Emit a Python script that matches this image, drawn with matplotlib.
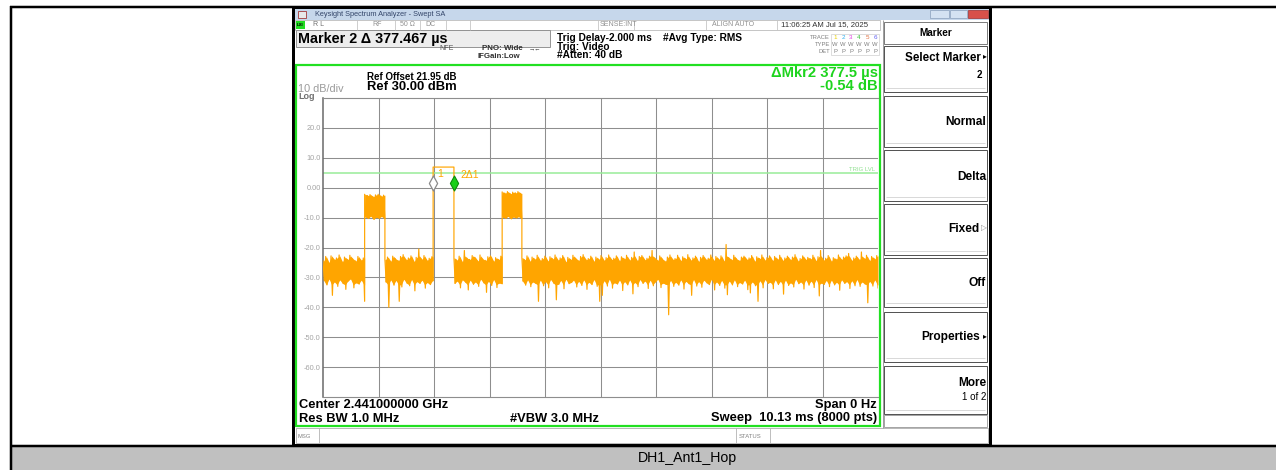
import numpy as np
import matplotlib
matplotlib.use('Agg')
import matplotlib.pyplot as plt
from matplotlib.patches import Rectangle
from matplotlib.path import Path

plt.rcParams['font.family'] = ['Liberation Sans', 'DejaVu Sans']

# ---------------- data ----------------
sweep_ms = 10.13
y_top, y_bottom = 30.0, -70.0
y_ticks = [20, 10, 0, -10, -20, -30, -40, -50, -60]
y_tick_labels = ["20.0", "10.0", "0.00", "-10.0", "-20.0", "-30.0", "-40.0", "-50.0", "-60.0"]

# segment boundaries (ms)
seg_bounds = [0.0, 0.76, 1.13, 2.01, 2.39, 3.27, 3.63, 10.13]

noise_A_hi = [-24.5, -23.0, -25.0, -22.8, -24.0, -23.5, -22.5, -24.8, -23.2, -24.0, -22.6, -23.8, -24.5, -23.0, -24.2, -23.5]
noise_A_lo = [-31.0, -32.5, -30.5, -36.0, -31.5, -33.0, -30.8, -32.0, -34.0, -31.2, -30.5, -33.5, -31.8, -32.2, -30.9, -38.0]

pulse1_hi = [-2.2, -2.6, -2.3, -3.0, -2.4, -2.2, -2.8, -2.5]
pulse1_lo = [-9.8, -10.3, -9.5, -10.6, -9.9, -10.2, -9.6, -10.4]

noise_B_hi = [-24.0, -23.2, -24.6, -22.9, -23.8, -24.4, -23.0, -22.4, -24.1, -23.5, -22.8, -24.7, -23.3, -20.5, -23.9, -22.7, -24.3, -23.6, -23.1]
noise_B_lo = [-31.5, -40.0, -30.8, -32.6, -31.0, -38.0, -33.2, -30.6, -31.9, -32.8, -30.7, -34.5, -31.4, -32.0, -30.9, -33.6, -31.7, -32.4, -31.1]

pulse2_level = 6.9

noise_C_hi = [-23.5, -24.2, -22.9, -24.8, -21.0, -23.6, -24.0, -22.7, -23.3, -24.5, -22.5, -23.9, -24.3, -23.1, -22.8, -24.6, -23.4, -24.0, -22.9]
noise_C_lo = [-32.0, -31.2, -33.5, -30.8, -31.6, -34.2, -30.9, -32.3, -31.5, -33.0, -30.6, -31.8, -35.0, -31.3, -32.7, -30.7, -33.4, -31.9, -32.1]

pulse3_hi = [-1.4, -1.8, -1.3, -2.0, -1.5, -1.7, -1.3, -1.9]
pulse3_lo = [-9.9, -10.2, -9.6, -10.4, -9.8, -10.1, -9.7, -10.3]

noise_D_hi = [
    -23.4, -24.1, -22.8, -24.6, -23.2, -23.9, -22.6, -24.3, -23.7, -22.9,
    -24.5, -23.1, -23.8, -22.5, -24.2, -23.5, -22.7, -24.8, -23.3, -24.0,
    -22.6, -23.6, -24.4, -23.0, -22.4, -24.1, -23.7, -22.9, -24.6, -23.2,
    -23.9, -22.7, -24.3, -23.4, -22.5, -24.0, -23.6, -22.8, -24.5, -23.1,
    -23.8, -22.6, -24.2, -23.3, -21.5, -24.4, -23.0, -22.7, -24.1, -23.6,
    -22.9, -21.0, -23.5, -24.3, -22.8, -23.9, -24.6, -23.2, -22.5, -24.0,
    -23.7, -22.6, -24.4, -23.1, -23.8, -22.4, -24.2, -23.5, -22.9, -24.7,
    -23.3, -22.7, -24.0, -23.6, -22.5, -24.3, -23.0, -23.9, -22.8, -24.5,
    -19.0, -23.4, -24.1, -22.6, -23.8, -24.4, -23.2, -22.9, -24.0, -23.5,
    -22.7, -24.6, -23.1, -23.7, -22.5, -24.2, -23.4, -22.8, -24.4, -23.0,
    -23.9, -22.6, -24.3, -23.5, -22.9, -24.1, -23.2, -22.4, -24.5, -23.7,
    -22.8, -24.0, -23.3, -23.8, -22.6, -24.4, -23.1, -21.0, -24.2, -23.6,
    -22.7, -24.6, -23.4, -23.9, -22.5, -24.0, -23.2, -22.8, -22.0, -24.3,
    -23.5, -22.9, -24.1, -21.5, -23.7, -22.6, -24.4, -23.0, -23.8, -22.7]
noise_D_lo = [
    -31.2, -32.6, -30.8, -33.1, -31.5, -32.0, -38.0, -30.9, -32.8, -31.4,
    -33.5, -30.7, -31.9, -37.5, -32.3, -31.0, -33.8, -30.6, -32.1, -31.7,
    -30.9, -33.2, -31.3, -32.7, -30.8, -34.0, -31.6, -32.4, -30.7, -33.0,
    -38.0, -36.0, -31.1, -32.9, -30.6, -33.6, -31.8, -32.2, -30.9, -34.4,
    -31.4, -32.5, -30.8, -35.5, -31.7, -33.1, -30.7, -32.0, -31.2, -33.7,
    -30.9, -32.8, -31.5, -30.6, -33.4, -31.9, -32.3, -42.5, -31.0, -33.0,
    -31.6, -32.6, -30.8, -33.9, -31.3, -32.1, -36.0, -30.7, -32.9, -31.4,
    -33.3, -30.9, -31.8, -32.4, -30.6, -34.2, -31.5, -32.7, -31.0, -33.6,
    -35.8, -31.2, -32.5, -30.8, -33.1, -31.7, -32.2, -30.9, -34.1, -35.2,
    -31.5, -32.8, -38.0, -31.1, -33.5, -30.7, -32.0, -31.6, -33.8, -30.8,
    -32.4, -31.3, -35.6, -30.9, -32.7, -31.8, -33.2, -30.6, -32.1, -31.5,
    -33.9, -30.8, -32.6, -31.2, -33.4, -30.7, -36.2, -31.9, -32.3, -31.0,
    -33.1, -30.9, -32.5, -31.6, -34.3, -30.8, -32.0, -31.4, -33.7, -31.1,
    -32.8, -30.7, -33.0, -31.5, -32.2, -38.5, -31.3, -32.9, -30.8, -33.5]

trig_level = 5.0
marker_ms = [2.01, 2.39]
marker_dbm = [1.7, 1.7]

# ---------------- build trace ----------------
seg_hi = [noise_A_hi, pulse1_hi, noise_B_hi, None, noise_C_hi, pulse3_hi, noise_D_hi]
seg_lo = [noise_A_lo, pulse1_lo, noise_B_lo, None, noise_C_lo, pulse3_lo, noise_D_lo]
tt, vv = [], []
bands = []  # (times, lo, hi) per segment for solid core fill
for i in range(len(seg_hi)):
    t0, t1 = seg_bounds[i], seg_bounds[i + 1]
    if seg_hi[i] is None:
        tt += [t0, t1]
        vv += [pulse2_level, pulse2_level]
    else:
        n = len(seg_hi[i])
        ts = np.linspace(t0, t1, 2 * n)
        tt += list(ts)
        for h, l in zip(seg_hi[i], seg_lo[i]):
            vv += [h, l]
        tp = (ts[0::2] + ts[1::2]) / 2
        tp = np.concatenate([[t0], tp, [t1]])
        hi = np.array(seg_hi[i])
        lo = np.array(seg_lo[i])
        if hi.mean() < -15:   # noise floor: keep spikes as thin lines
            hi = np.minimum(hi, -22.8)
            lo = np.maximum(lo, -32.5)
        hi = np.concatenate([[hi[0]], hi, [hi[-1]]])
        lo = np.concatenate([[lo[0]], lo, [lo[-1]]])
        bands.append((tp, lo, hi))
tt = np.array(tt)
vv = np.array(vv)

# ---------------- figure ----------------
W, H = 1276, 470
fig = plt.figure(figsize=(W / 100, H / 100), dpi=100)
bg = fig.add_axes([0, 0, 1, 1])
bg.set_xlim(0, W)
bg.set_ylim(H, 0)
bg.axis('off')
PX = 0.72


def rect(x0, y0, x1, y1, fc='none', ec='none', lw=1.0, z=1):
    bg.add_patch(Rectangle((x0, y0), x1 - x0, y1 - y0, facecolor=fc,
                           edgecolor=ec, linewidth=lw * PX, zorder=z))


def line(xs, ys, c, lw=1.0, z=2):
    bg.plot(xs, ys, color=c, lw=lw * PX, zorder=z, solid_capstyle='butt')


def txt(x, y, s, size, color='black', weight='normal', ha='left', va='center', z=5):
    bg.text(x, y, s, fontsize=size, color=color, fontweight=weight,
            ha=ha, va=va, zorder=z)


# table
rect(12, 447, W, H, fc='#c0c0c0', z=0)
line([10, W], [7, 7], 'black', 2.5)
line([11, 11], [6, H], 'black', 2.5)
line([10, W], [446, 446], 'black', 2.5)
txt(638, 458, "DH1_Ant1_Hop", 10.2, color='black')

# screenshot frame
rect(292, 7, 992, 446, fc='black', z=1)
rect(295, 9, 989, 444, fc='white', z=1.1)

# title bar
rect(295, 9, 989, 19.5, fc='#c6d7eb', z=1.2)
rect(298, 10.5, 306, 17.5, fc='#e8e8e8', ec='#a03030', lw=0.8, z=1.3)
txt(315, 14.3, "Keysight Spectrum Analyzer - Swept SA", 5.3, color='#34466a')
rect(930, 10, 949, 18, fc='#d4e2f2', ec='#8aa0bc', lw=0.7, z=1.3)
rect(950, 10, 967, 18, fc='#d4e2f2', ec='#8aa0bc', lw=0.7, z=1.3)
rect(968, 10, 988, 18, fc='#d8504a', ec='#a03030', lw=0.7, z=1.3)

# status row
rect(295, 20, 880, 29.5, fc='white', ec='#b8b8b8', lw=0.8, z=1.2)
rect(296, 20.5, 305, 29, fc='#22dd22', z=1.3)
txt(300.5, 24.8, "LXI", 3.2, color='black', weight='bold', ha='center')
for xs in [357, 395, 420, 446, 470, 598, 634, 706, 777]:
    line([xs, xs], [20, 29.5], '#c4c4c4', 0.8, z=1.4)
txt(313, 24.8, "R L", 5, color='#707070')
txt(372, 24.8, "RF", 5, color='#909090')
txt(400, 24.8, "50 Ω", 5, color='#909090')
txt(425, 24.8, "DC", 5, color='#909090')
txt(600, 24.8, "SENSE:INT", 5, color='#909090')
txt(712, 24.8, "ALIGN AUTO", 5, color='#909090')
txt(781, 24.8, "11:06:25 AM Jul 15, 2025", 5.6, color='#303030')

# marker readout row
rect(296, 30, 550, 47, fc='#ededed', ec='#8c8c8c', lw=0.9, z=1.2)
txt(298, 39, "Marker 2 Δ 377.467 µs", 10.4, weight='bold')
txt(439, 48.5, "NFE", 5, color='#505050')
txt(482, 48.5, "PNO: Wide", 5.7, weight='bold', color='#303030')
txt(529, 48.5, "→←", 4.5, color='#303030')
txt(477, 57, "IFGain:Low", 5.7, weight='bold', color='#303030')
txt(557, 38, "Trig Delay-2.000 ms", 7.3, weight='bold')
txt(557, 46.5, "Trig: Video", 7.3, weight='bold')
txt(557, 55, "#Atten: 40 dB", 7.3, weight='bold')
txt(663, 38, "#Avg Type: RMS", 7.3, weight='bold')

txt(830, 37.5, "TRACE", 4.2, color='#808080', ha='right')
txt(830, 44.3, "TYPE", 4.2, color='#808080', ha='right')
txt(830, 51.1, "DET", 4.2, color='#808080', ha='right')
trace_cols = ['#e8d000', '#30b0f0', '#e040e0', '#30c030', '#e07040', '#6060f0']
rect(831, 33.5, 879, 55, fc='white', ec='#c8c8c8', lw=0.6, z=1.3)
for k in range(6):
    xk = 835 + k * 8
    txt(xk, 37.5, str(k + 1), 4.5, color=trace_cols[k], ha='center')
    txt(xk, 44.3, "W", 4.2, color='#808080', ha='center')
    txt(xk, 51.1, "P", 4.2, color='#808080', ha='center')

# green frame
GREEN = '#22e022'
rect(296, 65, 880, 426, fc='none', ec=GREEN, lw=2.2, z=4)
txt(367, 77, "Ref Offset 21.95 dB", 7.0, weight='bold')
txt(367, 87, "Ref 30.00 dBm", 9.4, weight='bold')
txt(298, 88.5, "10 dB/div", 7.8, color='#9a9a9a')
txt(298, 96.5, "Log", 6.5, color='#707070', weight='bold')
txt(878, 73.5, "ΔMkr2 377.5 µs", 10.6, color='#1ed41e', weight='bold', ha='right')
txt(878, 86.5, "-0.54 dB", 10.6, color='#1ed41e', weight='bold', ha='right')

txt(299, 405, "Center 2.441000000 GHz", 9.3, weight='bold')
txt(877, 405, "Span 0 Hz", 9.3, weight='bold', ha='right')
txt(299, 418.5, "Res BW 1.0 MHz", 9.3, weight='bold')
txt(510, 418.5, "#VBW 3.0 MHz", 9.3, weight='bold')
txt(877, 418.5, "Sweep  10.13 ms (8000 pts)", 9.3, weight='bold', ha='right')

# msg bar
rect(296, 428, 988, 443, fc='white', ec='#a8a8a8', lw=0.8, z=1.2)
for xs in [319, 736, 770]:
    line([xs, xs], [428, 443], '#b0b0b0', 0.8, z=1.4)
txt(298, 436, "MSG", 4.2, color='#808080')
txt(739, 436, "STATUS", 4.2, color='#808080')

# right soft-key panel
line([883, 883], [20, 428], '#a0a0a0', 1.0, z=1.4)
rect(884, 22, 987, 44, fc='white', ec='#707070', lw=0.9, z=1.3)
txt(935.5, 33, "Marker", 7.2, weight='bold', ha='center')

buttons = [
    (46, 92), (96, 147), (150, 201), (204, 255), (258, 307), (312, 362), (366, 414)]
for (b0, b1) in buttons:
    rect(884, b0, 987, b1, fc='white', ec='#555555', lw=1.0, z=1.3)
    line([886, 985], [b1 - 4, b1 - 4], '#d0d0d0', 0.8, z=1.4)
rect(884, 415, 987, 427, fc='white', ec='#909090', lw=0.8, z=1.3)

txt(981, 58, "Select Marker", 8.4, weight='bold', ha='right')
txt(986.5, 57, "▸", 5.5, ha='right')
txt(982, 75, "2", 7.0, weight='bold', ha='right')
txt(986, 122, "Normal", 8.6, weight='bold', ha='right')
txt(986, 177, "Delta", 8.6, weight='bold', ha='right')
txt(979, 229, "Fixed", 8.6, weight='bold', ha='right')
txt(986.5, 229, "▷", 5.5, color='#909090', ha='right')
txt(986, 283, "Off", 8.6, weight='bold', ha='right')
txt(980, 337, "Properties", 8.6, weight='bold', ha='right')
txt(986.5, 337, "▸", 5.5, ha='right')
txt(986, 383, "More", 8.6, weight='bold', ha='right')
txt(986, 397, "1 of 2", 7.0, ha='right')

# ---------------- plot area ----------------
ax = fig.add_axes([323 / W, 1 - 397 / H, (878 - 323) / W, (397 - 98) / H])
ax.set_facecolor('white')
ax.set_xlim(0, sweep_ms)
ax.set_ylim(y_bottom, y_top)
ax.set_xticks(np.linspace(0, sweep_ms, 11)[1:-1])
ax.set_xticklabels([])
ax.set_yticks(y_ticks)
ax.set_yticklabels(y_tick_labels)
ax.tick_params(axis='both', length=0)
ax.tick_params(axis='y', pad=1.5, labelsize=5.3, labelcolor='#a4a4a4')
ax.grid(True, color='#8e8e8e', lw=0.75, zorder=0)
ax.set_axisbelow(True)
for s in ['top', 'bottom']:
    ax.spines[s].set_color('#8e8e8e')
    ax.spines[s].set_linewidth(0.8)
ax.spines['left'].set_color('#6a6a6a')
ax.spines['left'].set_linewidth(1.1)
ax.spines['right'].set_visible(False)

ax.axhline(trig_level, color='#98ec98', lw=1.1, zorder=1)
ax.text(10.07, trig_level + 1.2, "TRIG LVL", fontsize=4.3, color='#90e090',
        ha='right', va='center')

TRACE = '#ffa500'
for (tp, lo, hi) in bands:
    ax.fill_between(tp, lo, hi, color=TRACE, lw=0, zorder=2.5)
ax.plot(tt, vv, color=TRACE, lw=0.85, zorder=3)

diamond = Path([(0, 1), (0.55, 0), (0, -1), (-0.55, 0), (0, 1)],
               [Path.MOVETO, Path.LINETO, Path.LINETO, Path.LINETO, Path.CLOSEPOLY])
ax.plot([marker_ms[0]], [marker_dbm[0]], marker=diamond, ms=10.8,
        mfc='white', mec='#8a8a8a', mew=0.9, zorder=5, clip_on=False)
ax.plot([marker_ms[1]], [marker_dbm[1]], marker=diamond, ms=10.8,
        mfc='#18d018', mec='#0c8c0c', mew=0.8, zorder=5, clip_on=False)
ax.text(marker_ms[0] + 0.08, marker_dbm[0] + 2.8, "1", fontsize=7.5,
        color=TRACE, ha='left', va='center', zorder=6)
ax.text(marker_ms[1] + 0.11, marker_dbm[1] + 2.4, "2Δ1", fontsize=7.5,
        color=TRACE, ha='left', va='center', zorder=6)

fig.savefig('out.png', dpi=100)
